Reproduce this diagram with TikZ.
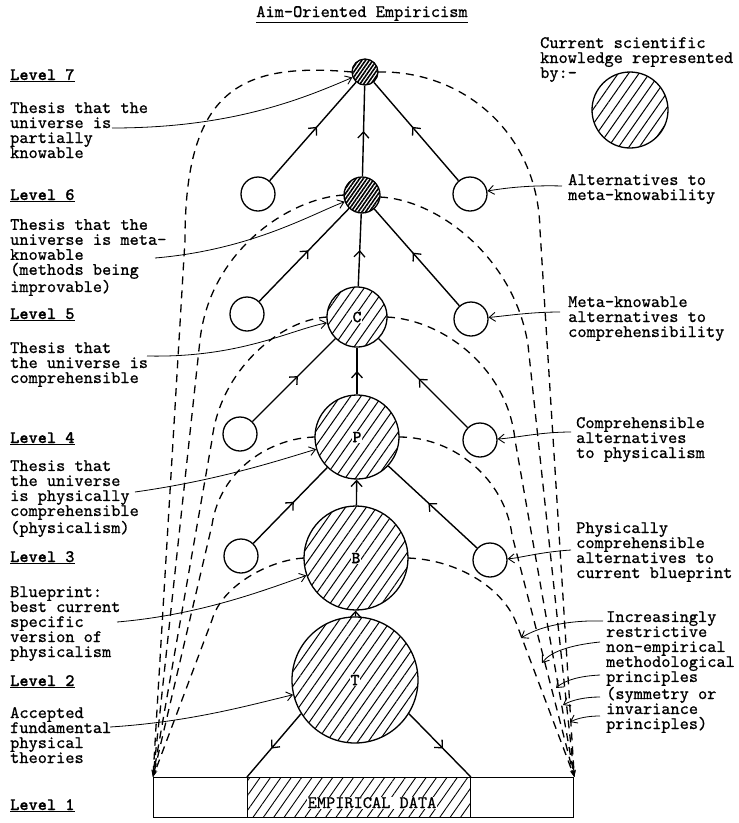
\documentclass[tikz,border=0pt]{standalone}
\usepackage{fontspec}
\newfontfamily\tw{lmmono10-regular.otf}[FakeBold=0.8]
\newfontfamily\twb{lmmonolt10-bold.otf}[FakeBold=0.6]
\usetikzlibrary{arrows.meta,decorations.markings,patterns.meta}
\begin{document}
\begin{tikzpicture}[x=1pt,y=-1pt,
  tw/.style={font=\tw\fontsize{17.5}{15}\selectfont, inner sep=0pt, align=left, anchor=base west},
  tb/.style={font=\twb\fontsize{17.5}{15}\selectfont, inner sep=0pt, anchor=base west},
  hatched/.style={circle, draw, line width=1.3pt, inner sep=0pt, pattern={Lines[angle=55,distance=8.5pt,line width=1pt]}},
  dense/.style={circle, draw, line width=1.3pt, inner sep=0pt, pattern={Lines[angle=55,distance=3pt,line width=1.6pt]}},
  alt/.style={circle, draw, line width=1.3pt, inner sep=0pt, minimum size=34pt, fill=white},
  ltr/.style={font=\twb\fontsize{17}{17}\selectfont, fill=white, inner sep=1pt},
  link/.style={line width=1.4pt, postaction={decorate}, decoration={markings, mark=at position #1 with {\arrow{Straight Barb[length=6pt,width=11pt,line width=1.3pt]}}}},
  link/.default=0.55,
  tipline/.style={line width=1.4pt, -{Straight Barb[length=6pt,width=11pt,line width=1.3pt]}},
  dsh/.style={line width=1.3pt, dash pattern=on 8pt off 6pt, -{Stealth[length=7pt,width=4pt]}},
  lbl/.style={line width=0.8pt, -{Straight Barb[length=6pt,width=9pt,line width=0.9pt]}},
  barbox/.style={draw, line width=1.3pt, minimum height=40pt, anchor=north west, inner sep=0pt},
]
\useasboundingbox (0,0) rectangle (739,823);

% ---------- texts (multi-line nodes anchored at the baseline of their last line) ----------
\node[tw, anchor=base] (title) at (362,17) {\underline{Aim-Oriented Empiricism}};

\node[tb] (lv7) at (10,80) {\underline{Level 7}};
\node[tw] (th7) at (10,158) {Thesis that the\\universe is\\partially\\knowable};
\node[tb] (lv6) at (10,200) {\underline{Level 6}};
\node[tw] (th6) at (10,292) {Thesis that the\\universe is meta-\\knowable\\(methods being\\improvable)};
\node[tb] (lv5) at (10,319) {\underline{Level 5}};
\node[tw] (th5) at (10,383) {Thesis that\\the universe is\\comprehensible};
\node[tb] (lv4) at (10,443) {\underline{Level 4}};
\node[tw] (th4) at (10,533) {Thesis that\\the universe\\is physically\\comprehensible\\(physicalism)};
\node[tb] (lv3) at (10,562) {\underline{Level 3}};
\node[tw] (th3) at (10,657) {Blueprint:\\best current\\specific\\version of\\physicalism};
\node[tb] (lv2) at (10,686) {\underline{Level 2}};
\node[tw] (th2) at (10,763) {Accepted\\fundamental\\physical\\theories};
\node[tb] (lv1) at (10,810) {\underline{Level 1}};

\node[tw] (cur) at (540,78) {Current scientific\\knowledge represented\\by:-};
\node[tw] (r6) at (568,200) {Alternatives to\\meta-knowability};
\node[tw] (r5) at (568,337) {Meta-knowable\\alternatives to\\comprehensibility};
\node[tw] (r4) at (576,458) {Comprehensible\\alternatives\\to physicalism};
\node[tw] (r3) at (576,578) {Physically\\comprehensible\\alternatives to\\current blueprint};
\node[tw] (r2) at (606,729) {Increasingly\\restrictive\\non-empirical\\methodological\\principles\\(symmetry or\\invariance\\principles)};

% ---------- bar ----------
\node[barbox, minimum width=94pt] (bl) at (153,777) {};
\node[barbox, minimum width=223pt, pattern={Lines[angle=55,distance=8.5pt,line width=0.9pt]}] (bm) at (247,777) {};
\node[barbox, minimum width=103pt] (br) at (470,777) {};
\node[tw, anchor=base, fill=white, inner sep=0.5pt] (ed) at (372,808) {EMPIRICAL DATA};

% ---------- dashed curves ----------
\coordinate (kw) at (352,72);
\coordinate (ke) at (378,72);
\draw[dsh] (kw) .. controls (240,62) and (185,90) .. (185,240) -- (bl.north west);
\draw[dsh] (344,195) .. controls (290,198) and (210,250) .. (200,340) -- (bl.north west);
\draw[dsh] (327,317) .. controls (280,320) and (220,370) .. (212,440) -- (bl.north west);
\draw[dsh] (315,437) .. controls (270,438) and (220,470) .. (212,525) -- (bl.north west);
\draw[dsh] (304,558) .. controls (270,560) and (222,585) .. (212,620) -- (bl.north west);

\draw[dsh] (ke) .. controls (460,70) and (538,130) .. (540,230) -- (br.north east);
\draw[dsh] (380,197) .. controls (440,200) and (515,260) .. (528,345) -- (br.north east);
\draw[dsh] (387,317) .. controls (445,320) and (508,370) .. (515,440) -- (br.north east);
\draw[dsh] (399,437) .. controls (455,437) and (505,480) .. (512,535) -- (br.north east);
\draw[dsh] (408,558) .. controls (460,560) and (505,590) .. (517,625) -- (br.north east);

% ---------- circles ----------
\node[hatched, minimum size=76pt] (leg) at (630,110) {};

\node[dense, minimum size=26pt] (K) at (365,72) {};
\node[dense, minimum size=36pt] (M) at (362,195) {};
\node[hatched, minimum size=60pt] (C) at (357,317) {};
\node[hatched, minimum size=84pt] (P) at (357,437) {};
\node[hatched, minimum size=104pt] (B) at (356,558) {};
\node[hatched, minimum size=126pt] (T) at (355,680) {};
\node[ltr] (lc) at (C) {C};
\node[ltr] (lp) at (P) {P};
\node[ltr] (lb) at (B) {B};
\node[ltr] (lt) at (T) {T};

\node[alt] (a6l) at (258,194) {};
\node[alt] (a6r) at (470,194) {};
\node[alt] (a5l) at (247,314) {};
\node[alt] (a5r) at (471,319) {};
\node[alt] (a4l) at (240,434) {};
\node[alt] (a4r) at (480,440) {};
\node[alt] (a3l) at (241,556) {};
\node[alt] (a3r) at (490,560) {};

% ---------- links ----------
\draw[link] (a6l) -- (K);
\draw[link] (a6r) -- (K);
\draw[link=0.5] (M) -- (K);
\draw[link] (a5l) -- (M);
\draw[link] (a5r) -- (M);
\draw[link=0.5] (C) -- (M);
\draw[link] (a4l) -- (C);
\draw[link] (a4r) -- (C);
\draw[link=0.5] (P) -- (C);
\draw[link] (a3l) -- (P);
\draw[link] (a3r) -- (P);
\draw[tipline] (B) -- (P);
\draw[tipline] (T) -- (B);
\draw[link=0.55] (T.212) -- (bm.north west);
\draw[link=0.55] (T.-32) -- (bm.north east);

% ---------- label arrows ----------
\coordinate (s7) at (112,128);
\coordinate (s6) at (155,258);
\coordinate (s5) at (147,356);
\coordinate (s4) at (135,492);
\coordinate (s3) at (117,622);
\coordinate (s2) at (110,727);
\draw[lbl] (s7) .. controls (230,128) and (300,100) .. (K);
\draw[lbl] (s6) .. controls (250,250) and (310,215) .. (M);
\draw[lbl] (s5) .. controls (240,358) and (290,330) .. (C);
\draw[lbl] (s4) .. controls (220,480) and (280,460) .. (P);
\draw[lbl] (s3) .. controls (200,615) and (265,590) .. (B);
\draw[lbl] (s2) .. controls (190,722) and (250,705) .. (T);

\coordinate (q6) at (562,186);
\coordinate (q5) at (560,312);
\coordinate (q4) at (571,432);
\coordinate (q3) at (571,550);
\draw[lbl] (q6) .. controls (530,185) and (505,188) .. (a6r);
\draw[lbl] (q5) .. controls (530,312) and (505,316) .. (a5r);
\draw[lbl] (q4) .. controls (540,432) and (515,438) .. (a4r);
\draw[lbl] (q3) .. controls (540,552) and (520,558) .. (a3r);

\coordinate (i1s) at (603,621); \coordinate (i1e) at (521,638);
\coordinate (i2s) at (600,642); \coordinate (i2e) at (542,663);
\coordinate (i3s) at (600,675); \coordinate (i3e) at (556,688);
\coordinate (i4s) at (600,697); \coordinate (i4e) at (563,705);
\coordinate (i5s) at (600,716); \coordinate (i5e) at (570,722);
\draw[lbl] (i1s) .. controls (570,620) and (540,626) .. (i1e);
\draw[lbl] (i2s) .. controls (570,645) and (550,652) .. (i2e);
\draw[lbl] (i3s) .. controls (580,676) and (565,680) .. (i3e);
\draw[lbl] (i4s) .. controls (585,697) and (572,700) .. (i4e);
\draw[lbl] (i5s) .. controls (588,716) and (578,718) .. (i5e);
\end{tikzpicture}
\end{document}
